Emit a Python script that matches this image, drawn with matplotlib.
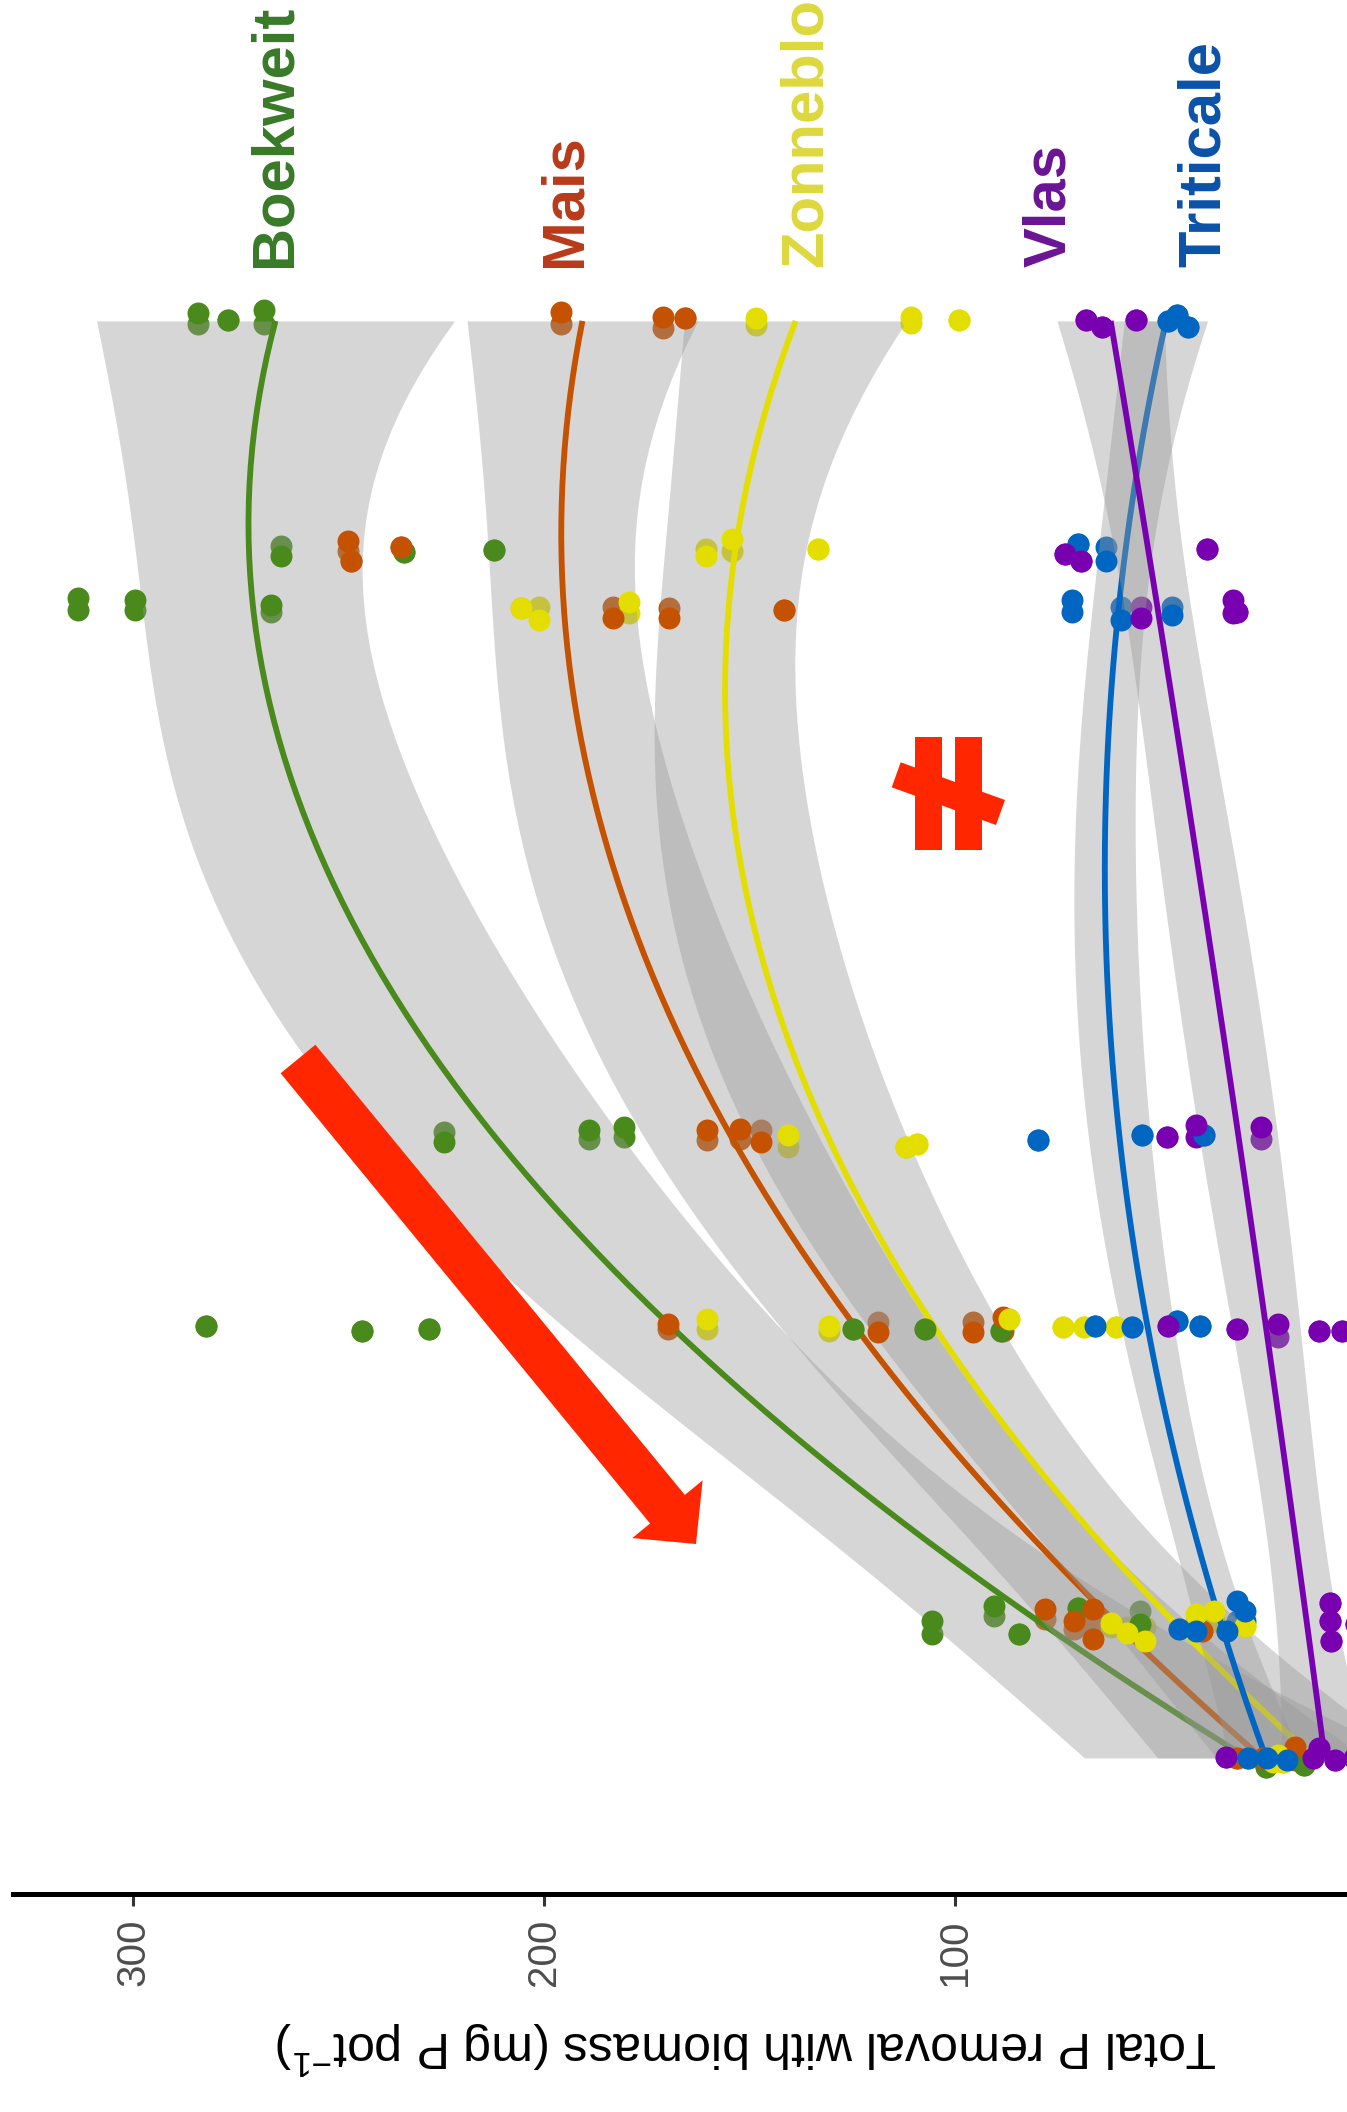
import numpy as np
import matplotlib
matplotlib.use("Agg")
import matplotlib.pyplot as plt
from matplotlib.patches import FancyArrow, Rectangle, Polygon
from matplotlib.transforms import Affine2D

plt.rcParams["font.family"] = "Liberation Sans"
plt.rcParams["mathtext.fontset"] = "custom"
plt.rcParams["mathtext.rm"] = "Liberation Sans"
plt.rcParams["mathtext.it"] = "Liberation Sans:italic"

# ================================
# Data: P removal per harvest moment (3-6 pots per moment)
# jitter = small shift along the time axis, top / bottom point layer
# ================================
moments = [0, 14, 45, 65, 120, 126, 150]

species = ["Boekweit", "Mais", "Zonnebloem", "Triticale", "Vlas"]
point_colors = ["#4A8A1C", "#C45200", "#E3DE00", "#0066C2", "#7800B0"]
label_colors = ["#387A28", "#B83A1A", "#DCD83C", "#0A52A8", "#6A1494"]
label_p = [265.4, 194.9, 136.3, 39.4, 76.9]

boekweit_p = [[24.3, 15.1, 21.0], [105.6, 90.5, 84.3, 70.1, 55.0],
              [282.2, 244.2, 227.9, 124.8, 107.3, 88.9], [224.3, 189.0, 180.6],
              [313.5, 299.5, 266.5], [264.0, 234.1, 212.2], [284.3, 277.0, 268.2]]
boekweit_jit_top = [[9, 7, 2], [-3, -18, 10, -16, 0], [-1, 4, 2, 2, 2, 4], [7, -5, -8],
                    [-10, -8, -3], [5, 1, -1], [-8, -1, -11]]
boekweit_jit_bot = [[9, 7, 2], [10, -8, 10, -16, -13], [-1, 4, 2, 2, 2, 4], [-3, 4, 2],
                    [2, 2, 4], [-5, 1, -1], [3, -1, 3]]

mais_p = [[31.4, 17.3, 25.0], [78.0, 71.1, 66.5, 66.3, 39.8], [169.8, 118.8, 95.6, 88.2],
          [160.3, 152.4, 147.2], [183.3, 169.5, 141.5], [247.7, 247.0, 234.8],
          [195.9, 171.0, 165.8]]
mais_jit_top = [[0, -11, 0], [-15, -3, -15, 15, 7], [-3, 5, 5, -10], [-5, -6, 7],
                [10, 10, 2], [-10, 10, -4], [-9, -4, -3]]
mais_jit_bot = [[0, 2, 0], [-5, 5, -5, 5, 7], [2, -5, -5, 4], [5, 4, -5],
                [-1, 0, 2], [0, 10, -4], [3, 7, -3]]

zonnebloem_p = [[22.6, 21.4, 20.2], [62.1, 58.2, 53.8, 41.4, 37.0, 29.3],
                [160.4, 130.7, 86.8, 73.8, 68.6, 60.7], [140.7, 111.9, 109.3],
                [205.5, 201.1, 179.2], [160.6, 154.3, 133.2], [148.4, 110.8, 98.9]]
zonnebloem_jit_top = [[4, -3, 4], [-1, 9, 17, -10, -13, 2], [-8, -1, -8, 0, 0, 0], [0, 12, 9],
                      [0, 12, -6], [5, -12, -2], [-3, -4, -1]]
zonnebloem_jit_bot = [[4, -3, 4], [3, 3, 3, -3, -3, 2], [2, 4, -8, 0, 0, 0], [12, 12, 9],
                      [0, -1, 5], [-2, 0, -2], [4, 2, -1]]

triticale_p = [[28.7, 19.2, 24.0], [45.6, 41.4, 33.9, 31.4, 29.3], [65.9, 56.9, 46.0, 40.4],
               [79.9, 54.4, 39.3], [71.5, 59.6, 47.1], [70.1, 63.2], [48.1, 46.0, 43.3]]
triticale_jit_top = [[0, 2, 0], [5, 7, 7, -23, -13], [-1, 0, -6, -1], [5, 0, 0],
                     [-8, 12, 7], [-7, 10], [0, -6, 6]]
triticale_jit_bot = [[0, 2, 0], [5, 7, 7, -3, -3], [-1, 0, -6, -1], [5, 0, 0],
                     [4, -1, -1], [-7, -4], [0, -6, 6]]

vlas_p = [[34.1, 12.9, 11.5, 7.5, 3.0], [8.8, 8.8, 8.4, 2.5], [48.1, 31.4, 21.4, 11.5, 5.9],
          [48.5, 41.4, 25.5], [54.8, 32.4, 31.4], [73.2, 69.4, 38.7], [68.0, 64.2, 56.0]]
vlas_jit_top = [[-1, 0, -10, 2, 0], [-21, -3, 17, 0], [-1, 2, -3, 4, 4], [2, -10, -8],
                [10, -8, 4], [3, 10, -2], [-1, 6, -1]]
vlas_jit_bot = [[-1, 0, -10, 2, 0], [-21, -3, 17, 0], [-1, 2, 10, 4, 4], [2, 2, 4],
                [-1, 5, 4], [3, 10, -2], [-1, 6, -1]]

all_p = [boekweit_p, mais_p, zonnebloem_p, triticale_p, vlas_p]
all_top = [boekweit_jit_top, mais_jit_top, zonnebloem_jit_top, triticale_jit_top, vlas_jit_top]
all_bot = [boekweit_jit_bot, mais_jit_bot, zonnebloem_jit_bot, triticale_jit_bot, vlas_jit_bot]

PX_PER_DAY = 9.58  # jitter values are in pixels


def flatten(nested, jitter=None):
    t, vals = [], []
    for i, row in enumerate(nested):
        for k, v in enumerate(row):
            shift = 0 if jitter is None else -jitter[i][k] / PX_PER_DAY
            t.append(moments[i] + shift)
            vals.append(v)
    return np.array(t), np.array(vals)


def t_quantile(df, z=1.959964):
    # Cornish-Fisher approximation of the 0.975 quantile of Student's t
    return (z + (z**3 + z) / (4 * df) + (5 * z**5 + 16 * z**3 + 3 * z) / (96 * df**2)
            + (3 * z**7 + 19 * z**5 + 17 * z**3 - 15 * z) / (384 * df**3))


def quad_fit(t, y, grid):
    X = np.column_stack([np.ones_like(t), t, t**2])
    beta, *_ = np.linalg.lstsq(X, y, rcond=None)
    resid = y - X @ beta
    df = len(y) - 3
    s2 = resid @ resid / df
    cov = s2 * np.linalg.inv(X.T @ X)
    G = np.column_stack([np.ones_like(grid), grid, grid**2])
    fit = G @ beta
    se = np.sqrt(np.einsum("ij,jk,ik->i", G, cov, G))
    q = t_quantile(df)
    return fit, fit - q * se, fit + q * se


# ================================
# Figure
# ================================
W, H = 1347, 2112
fig = plt.figure(figsize=(W / 100, H / 100), dpi=100)
ax = fig.add_axes([13 / W, (H - 1894) / H, 1 - 13 / W, 1894 / H])

grid = np.linspace(0, 150, 80)
dot = 250

# lower point layer (covered by the ribbons)
for p, bot, col in zip(all_p, all_bot, point_colors):
    t, v = flatten(p, bot)
    ax.scatter(v, t, s=dot, color=col, linewidths=0, zorder=1)

# quadratic fits with 95% band
for p, col in zip(all_p, point_colors):
    t, v = flatten(p)
    fit, lo, hi = quad_fit(t, v, grid)
    ax.fill_betweenx(grid, lo, hi, color="#999999", alpha=0.4, linewidth=0, zorder=2)
    ax.plot(fit, grid, color=col, lw=4.2, solid_capstyle="butt", zorder=2)

# upper point layer
for p, top, col in zip(all_p, all_top, point_colors):
    t, v = flatten(p, top)
    ax.scatter(v, t, s=dot, color=col, linewidths=0, zorder=5)

# species names at the end of the curves
for name, lp, col in zip(species, label_p, label_colors):
    ax.text(lp, 155.6, name, rotation=90, rotation_mode="anchor", ha="left", va="center",
            fontsize=43, fontweight="bold", color=col, zorder=6)

ax.set_xlim(329.2, 4.6)
ax.set_ylim(-14.2, 183.5)
for side in ["top", "right", "left"]:
    ax.spines[side].set_visible(False)
ax.spines["bottom"].set_linewidth(3.6)
ax.set_yticks([])
ax.set_xticks([100, 200, 300])
ax.tick_params(axis="x", length=8.6, width=2.2, color="#333333", pad=9,
               labelsize=29, labelcolor="#4D4D4D", labelrotation=90)
ax.set_xlabel(r"Total P removal with biomass (mg P pot$^{-1}$)", fontsize=36, rotation=180)
ax.xaxis.label.set_va("center")
ax.xaxis.set_label_coords((747 - 13) / (W - 13), -154 / 1894)

# ================================
# Red annotations (pixel positions, origin top left)
# ================================
px = Affine2D().scale(1, -1).translate(0, H)
red = "#FF2600"
fig.add_artist(FancyArrow(298, 1059, 398, 485, width=45, head_width=91, head_length=45,
                          length_includes_head=True, color=red, lw=0, transform=px))
fig.add_artist(Rectangle((915, 737), 27, 113, color=red, lw=0, transform=px))
fig.add_artist(Rectangle((955, 737), 27, 113, color=red, lw=0, transform=px))
fig.add_artist(Polygon([(900.7, 762.3), (1005, 800), (996, 825), (891.7, 787.3)],
                       closed=True, color=red, lw=0, transform=px))

fig.savefig("out.png", dpi=100)
